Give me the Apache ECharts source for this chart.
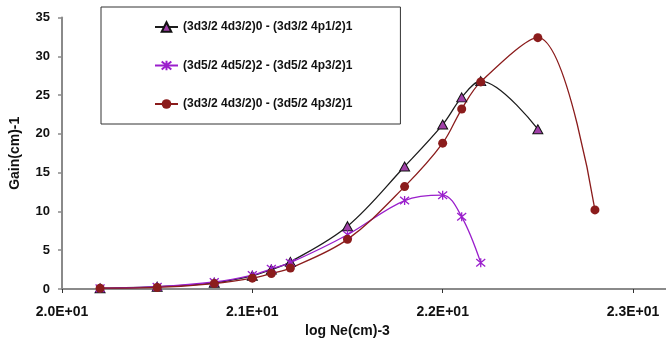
<!DOCTYPE html>
<html>
<head>
<meta charset="utf-8">
<script src="https://cdn.jsdelivr.net/npm/echarts@6/dist/echarts.min.js"></script>
<style>html,body{margin:0;padding:0;background:#fff}#c{width:666px;height:343px}</style>
</head>
<body>
<div id="c"></div>
<script>
// ---- data ----
const seriesNames = [
  '(3d3/2 4d3/2)0 - (3d3/2 4p1/2)1',
  '(3d5/2 4d5/2)2 - (3d5/2 4p3/2)1',
  '(3d3/2 4d3/2)0 - (3d5/2 4p3/2)1'
];
const xA = [20.2, 20.5, 20.8, 21.0, 21.1, 21.2, 21.5, 21.8, 22.0, 22.1, 22.2, 22.5];
const yA = [0.1, 0.3, 0.8, 1.7, 2.5, 3.5, 8.1, 15.8, 21.2, 24.7, 26.8, 20.6];
const xB = [20.2, 20.5, 20.8, 21.0, 21.1, 21.2, 21.5, 21.8, 22.0, 22.1, 22.2];
const yB = [0.1, 0.3, 0.9, 1.8, 2.6, 3.4, 7.0, 11.4, 12.1, 9.3, 3.4];
const xC = [20.2, 20.5, 20.8, 21.0, 21.1, 21.2, 21.5, 21.8, 22.0, 22.1, 22.2, 22.5, 22.8];
const yC = [0.1, 0.2, 0.7, 1.4, 2.0, 2.7, 6.4, 13.2, 18.8, 23.2, 26.7, 32.4, 10.2];
const xTicks = [20, 21, 22, 23];
const yTicks = [0, 5, 10, 15, 20, 25, 30, 35];
const xName = 'log Ne(cm)-3';
const yName = 'Gain(cm)-1';

const zip = (xs, ys) => xs.map((x, i) => [x, ys[i]]);
const fmtSci = v => {
  const e = Math.floor(Math.log10(v) + 1e-9);
  const m = v / Math.pow(10, e);
  return m.toFixed(1) + 'E' + (e >= 0 ? '+' : '-') + String(Math.abs(e)).padStart(2, '0');
};
const FONT = '"Liberation Sans", Arial, sans-serif';
const axisGrey = '#8a8a8a';
const starPath = 'path://M0,0 L10,10 M10,0 L0,10 M5,-1 L5,11';

const chart = echarts.init(document.getElementById('c'), null, {renderer: 'canvas'});
chart.setOption({
  animation: false,
  backgroundColor: '#fff',
  textStyle: {fontFamily: FONT},
  grid: {left: 62, right: 33, top: 17.5, bottom: 54, containLabel: false, outerBoundsMode: 'none'},
  legend: {
    orient: 'vertical',
    left: 101, top: 7,
    padding: [13, 48, 13, 53],
    itemGap: 24.5,
    itemWidth: 23, itemHeight: 12,
    borderColor: '#333', borderWidth: 1,
    textStyle: {fontFamily: FONT, fontWeight: 'bold', fontSize: 12, color: '#111', lineHeight: 14},
    data: seriesNames
  },
  xAxis: {
    type: 'value',
    min: xTicks[0], max: xTicks[xTicks.length - 1], interval: 1,
    name: xName, nameLocation: 'middle', nameGap: 31,
    nameTextStyle: {fontFamily: FONT, fontWeight: 'bold', fontSize: 14, color: '#111'},
    axisLine: {show: true, lineStyle: {color: axisGrey, width: 2}},
    axisTick: {show: true, length: 4, lineStyle: {color: '#333', width: 1}},
    axisLabel: {margin: 16, formatter: fmtSci, fontFamily: FONT, fontWeight: 'bold', fontSize: 14, color: '#111'},
    splitLine: {show: false}
  },
  yAxis: {
    type: 'value',
    min: yTicks[0], max: yTicks[yTicks.length - 1], interval: 5,
    name: yName, nameLocation: 'middle', nameGap: 40, nameRotate: 90,
    nameTextStyle: {fontFamily: FONT, fontWeight: 'bold', fontSize: 14, color: '#111'},
    axisLine: {show: true, lineStyle: {color: axisGrey, width: 2}},
    axisTick: {show: true, length: 4, lineStyle: {color: axisGrey, width: 1.5}},
    axisLabel: {margin: 12, fontFamily: FONT, fontWeight: 'bold', fontSize: 13, color: '#111'},
    splitLine: {show: false}
  },
  graphic: [{
    type: 'line', silent: true,
    shape: {x1: 633, y1: 289, x2: 666, y2: 289},
    style: {stroke: axisGrey, lineWidth: 2}
  }],
  series: [
    {
      name: seriesNames[0], type: 'line', smooth: 0.35,
      data: zip(xA, yA),
      symbol: 'triangle', symbolSize: [10, 9],
      lineStyle: {color: '#1c1c1c', width: 1.3},
      itemStyle: {color: '#a040a8', borderColor: '#111', borderWidth: 1}
    },
    {
      name: seriesNames[1], type: 'line', smooth: 0.35,
      data: zip(xB, yB),
      symbol: starPath, symbolSize: 9,
      lineStyle: {color: '#9a1fcc', width: 1.3},
      itemStyle: {color: 'rgba(0,0,0,0)', borderColor: '#9a1fcc', borderWidth: 1.3}
    },
    {
      name: seriesNames[2], type: 'line', smooth: 0.35,
      data: zip(xC, yC),
      symbol: 'circle', symbolSize: 9,
      lineStyle: {color: '#8b1c1c', width: 1.3},
      itemStyle: {color: '#8b1c1c', borderColor: '#8b1c1c', borderWidth: 0}
    }
  ]
});
</script>
</body>
</html>
